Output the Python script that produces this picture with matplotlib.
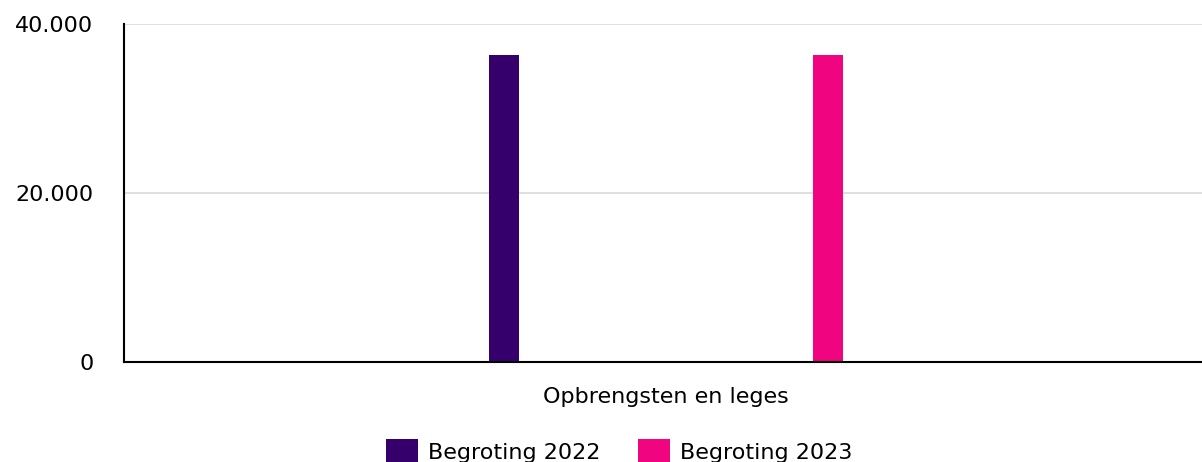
import matplotlib.pyplot as plt
from matplotlib.ticker import FuncFormatter
from matplotlib.patches import Patch

# Data
categories = ["Opbrengsten en leges"]
series_names = ["Begroting 2022", "Begroting 2023"]
begroting_2022 = [36300]
begroting_2023 = [36300]
colors = ["#35006b", "#f0047f"]

plt.rcParams['font.family'] = ['DejaVu Sans']

fig = plt.figure(figsize=(12.02, 4.62), dpi=100)
ax = fig.add_axes([124 / 1202, 1 - 362 / 462, 1 - 124 / 1202, (362 - 24) / 462])

x = list(range(len(categories)))
offset = 0.150
width = 0.028
ax.bar([i - offset for i in x], begroting_2022, width=width, color=colors[0], zorder=3)
ax.bar([i + offset for i in x], begroting_2023, width=width, color=colors[1], zorder=3)

ax.set_xlim(-0.5028, 0.4972)
ax.set_ylim(0, 40000)
ax.set_yticks([0, 20000, 40000])
ax.yaxis.set_major_formatter(FuncFormatter(lambda v, p: f"{int(v):,}".replace(",", ".")))
ax.set_xticks(x)
ax.set_xticklabels(categories)

ax.tick_params(axis='y', length=0, pad=22, labelsize=16)
ax.tick_params(axis='x', length=0, pad=18, labelsize=16)
ax.grid(axis='y', color='#d9d9d9', linewidth=1.2, zorder=0)
for s in ['top', 'right']:
    ax.spines[s].set_visible(False)
ax.spines['left'].set_color('black')
ax.spines['left'].set_linewidth(1.5)
ax.spines['bottom'].set_color('black')
ax.spines['bottom'].set_linewidth(1.5)
ax.spines['bottom'].set_zorder(4)

handles = [Patch(facecolor=c, edgecolor='none') for c in colors]
fig.legend(handles, series_names, loc='center', bbox_to_anchor=(619 / 1202, 1 - 452 / 462),
           ncol=2, frameon=False, fontsize=16, handlelength=1.45, handleheight=1.45,
           handletextpad=0.45, columnspacing=1.7)

fig.savefig("out.png", dpi=100)
